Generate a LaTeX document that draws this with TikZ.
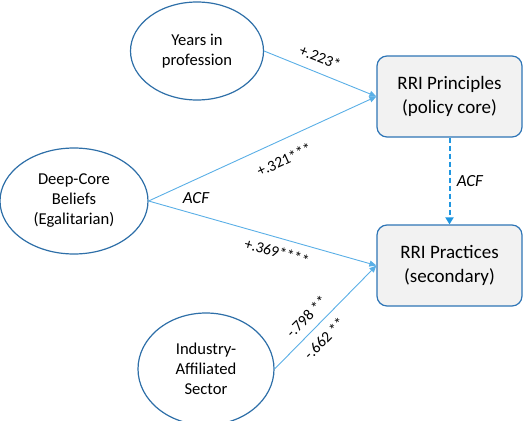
\documentclass[tikz,border=0pt]{standalone}
\usepackage{fontspec}
\setmainfont{Carlito}
\usetikzlibrary{arrows.meta,shapes.geometric}
\definecolor{ellblue}{HTML}{2E6FA8}
\definecolor{boxblue}{HTML}{2E75B6}
\definecolor{lineblue}{HTML}{5AAFE6}
\definecolor{dashblue}{HTML}{1F96E0}
\definecolor{boxfill}{HTML}{F2F2F2}
\begin{document}
\begin{tikzpicture}[x=1pt,y=-1pt,
  ell/.style={ellipse,draw=ellblue,line width=1.2pt,fill=white,inner sep=0pt,align=center,font=\fontsize{16.6}{20}\selectfont},
  rbox/.style={rectangle,rounded corners=10pt,draw=boxblue,line width=1.2pt,fill=boxfill,align=center,minimum width=145pt,minimum height=81pt,font=\fontsize{19}{24}\selectfont},
  conn/.style={draw=lineblue,line width=0.9pt,-{Triangle[length=7pt,width=6pt]}},
  lab/.style={font=\fontsize{15.5}{17}\selectfont,sloped,inner sep=0pt},
  acf/.style={font=\itshape\fontsize{17}{19}\selectfont},
  dashconn/.style={draw=dashblue,line width=2pt,dash pattern=on 5pt off 3pt,-{Triangle[length=7pt,width=8pt]}}]
\useasboundingbox (0,0) rectangle (526,420);
\node[ell,minimum width=133pt,minimum height=98pt] (years) at (197,51) {Years in\\profession};
\node[ell,minimum width=148pt,minimum height=106pt] (deep) at (74,201) {Deep-Core\\Beliefs\\(Egalitarian)};
\node[ell,minimum width=136pt,minimum height=112pt] (ind) at (206,369) {Industry-\\Affiliated\\Sector};
\node[rbox] (prin) at (449.5,96.5) {RRI Principles\\(policy core)};
\node[rbox] (prac) at (449.5,265.5) {RRI Practices\\(secondary)};
\draw[conn] (years.east) -- node[lab,above=9pt,pos=0.45] (l1) {+.223*} (prin.west);
\draw[conn] (deep.east) -- node[lab,below=13pt,pos=0.56] (l2) {+.321***} (prin.west);
\draw[conn] (deep.east) -- node[lab,below=8pt,pos=0.58] (l3) {+.369****} (prac.west);
\draw[conn] (ind.east) -- node[lab,above=8pt,pos=0.41] (l4) {-.798 **} node[lab,below=8pt,pos=0.39] (l5) {-.662 **} (prac.west);
\draw[dashconn] (prin.south) -- node[acf,right=3pt] (acf2) {ACF} (prac.north);
\node[acf] (acf1) at (196,198) {ACF};
\end{tikzpicture}
\end{document}
